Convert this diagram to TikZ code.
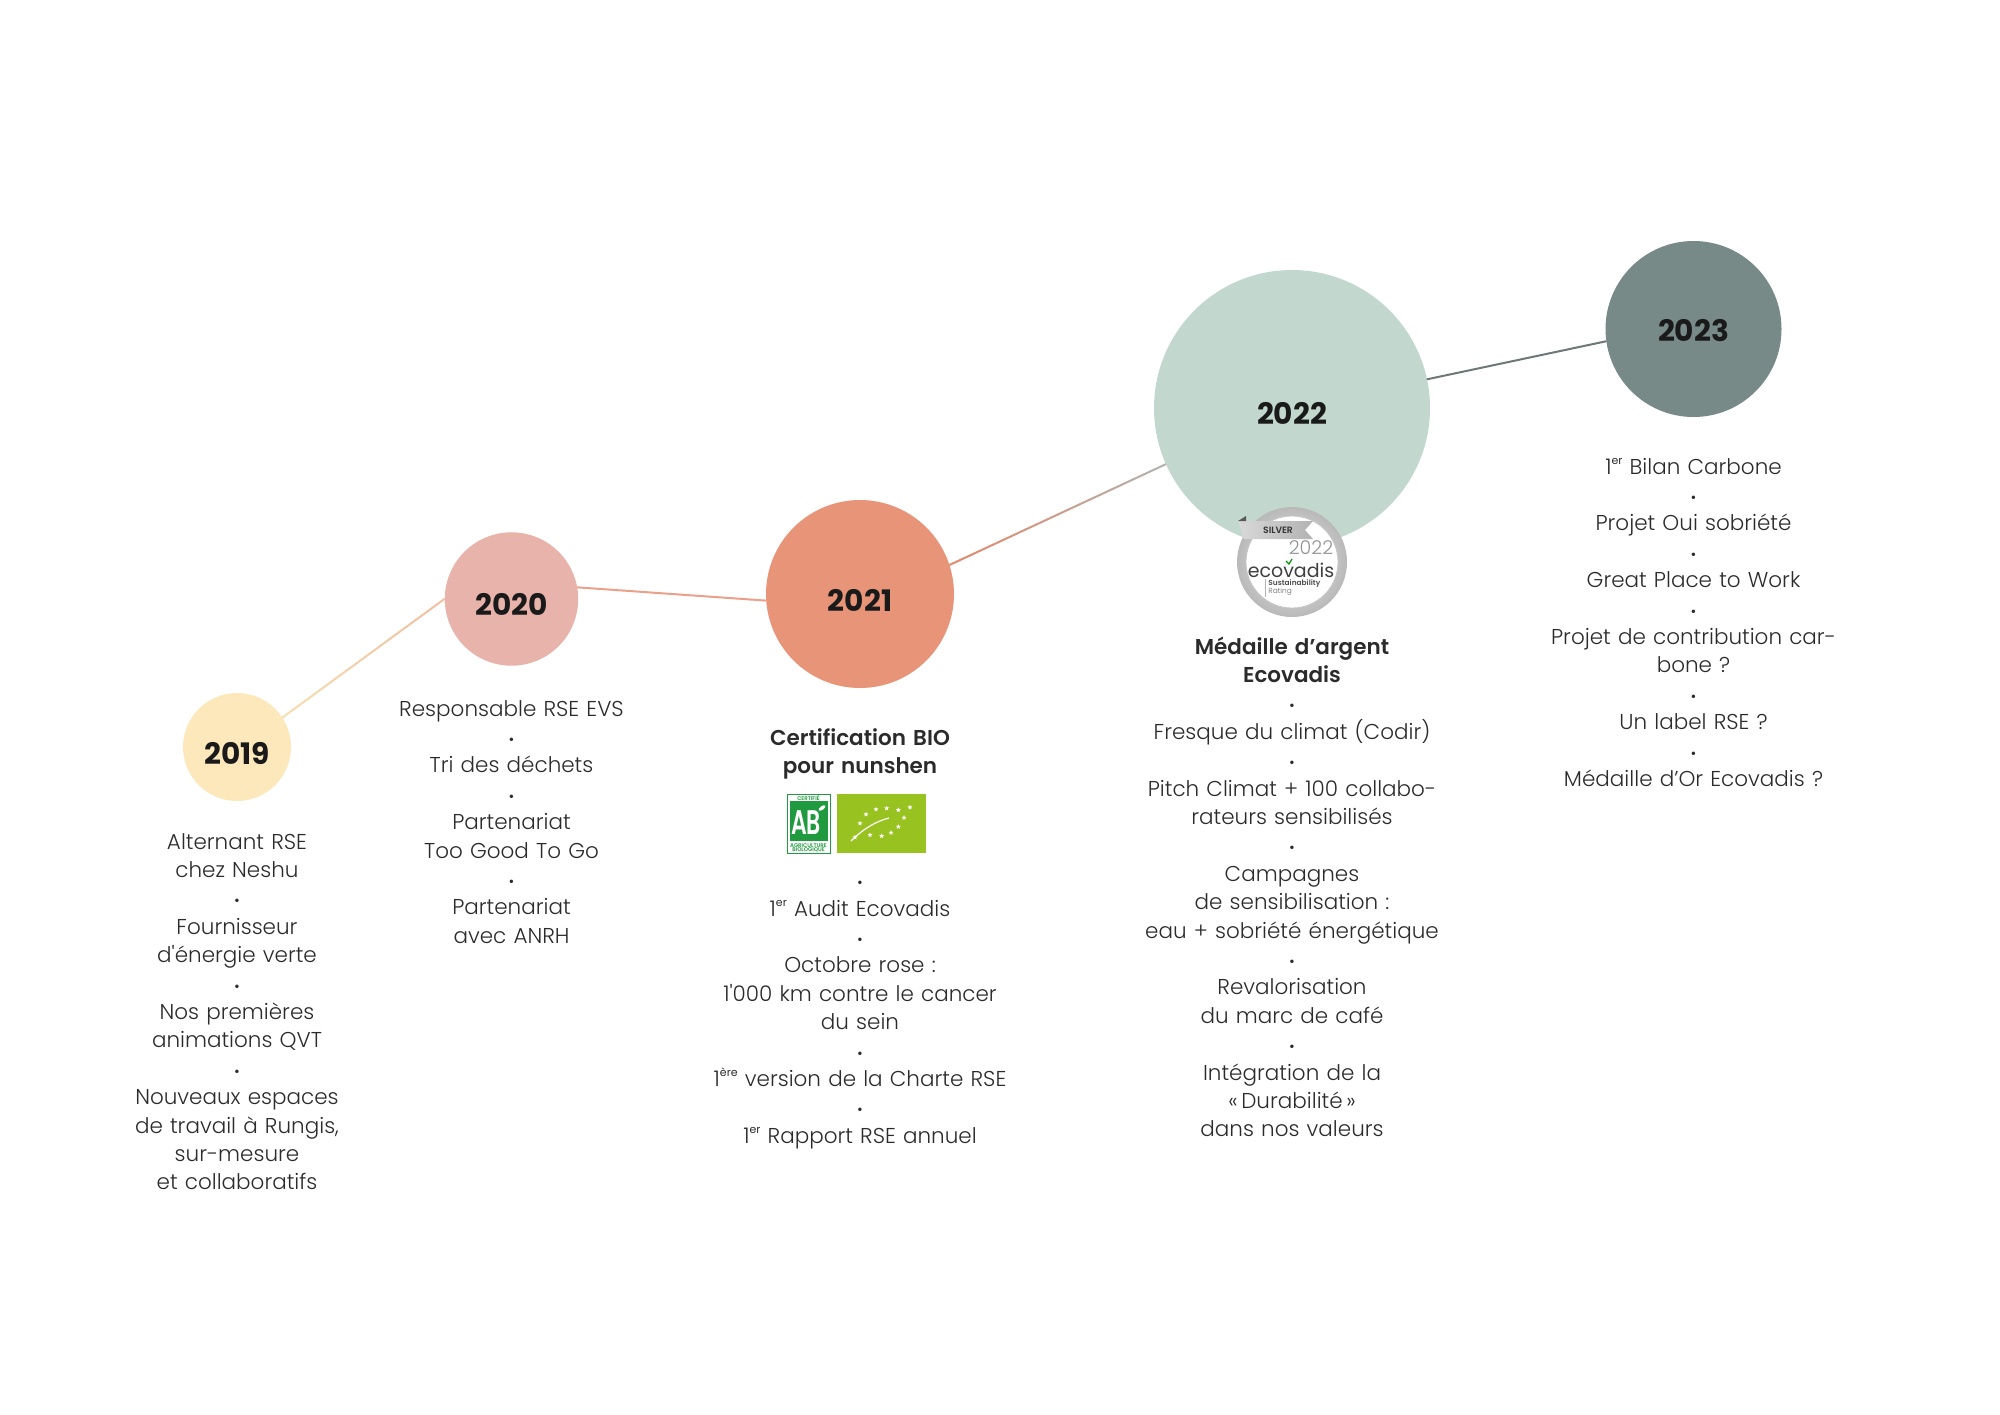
\documentclass[tikz,border=0pt]{standalone}
\usepackage{fontspec}
\setmainfont{Poppins}[UprightFont={* Light},BoldFont={* SemiBold}]
\newfontfamily\yearfont{Poppins}[UprightFont={* Bold}]
\newfontfamily\regfont{Poppins}
\usetikzlibrary{shapes.geometric,calc}
\definecolor{cA}{HTML}{FDE8BC}
\definecolor{cB}{HTML}{E7B3AB}
\definecolor{cC}{HTML}{E89478}
\definecolor{cD}{HTML}{C2D8CE}
\definecolor{cE}{HTML}{788A88}
\definecolor{txt}{HTML}{2B2B2B}
\definecolor{yeartxt}{HTML}{1A1A1A}
\definecolor{lnA}{HTML}{F7DDB0}
\definecolor{lnB}{HTML}{EFBFA0}
\definecolor{lnC}{HTML}{EBA08A}
\definecolor{lnD}{HTML}{E4896B}
\definecolor{lnE}{HTML}{B0B4B1}
\definecolor{lnF}{HTML}{6D7977}
\definecolor{abgreen}{HTML}{1F9A3F}
\definecolor{eugreen}{HTML}{97C21F}
\newcommand\sepdot{{\regfont\fontsize{7pt}{7pt}\selectfont •}}
\newcommand\supr[1]{\raisebox{0.85ex}{\regfont\fontsize{5.5}{5.5}\selectfont #1}}
\newcommand\gradconn[4]{%
  \foreach \k in {0,...,19}{%
    \pgfmathsetmacro\ga{\k/20}\pgfmathsetmacro\gb{(\k+1)/20}\pgfmathtruncatemacro\gp{100-5*\k}%
    \draw[conn, draw=#3!\gp!#4] ($(#1)!\ga!(#2)$) -- ($(#1)!\gb!(#2)$);}}
\tikzset{
  yearnode/.style 2 args={circle, inner sep=0pt, minimum size=#1pt, fill=#2},
  yearlabel/.style={font=\yearfont\fontsize{14.8}{14.8}\selectfont, text=yeartxt, inner sep=0pt},
  conn/.style={line width=1pt, line cap=round},
  coltext/.style={align=center, text width=175pt, anchor=base, inner sep=0pt,
    font=\fontsize{10.75}{14.2}\selectfont, text=txt},
  boldtext/.style={coltext, font=\bfseries\fontsize{10.75}{14.2}\selectfont},
  tiny/.style={inner sep=0pt, font=\bfseries\fontsize{2.7}{3}\selectfont},
  eustar/.style={star, star points=5, star point ratio=2.3, fill=white, inner sep=0pt, minimum size=2.6pt}
}
\begin{document}
\begin{tikzpicture}[x=0.5pt, y=-0.5pt]
\useasboundingbox (0,0) rectangle (2000,1414);

% year circles
\node[yearnode={54}{cA}] (n19) at (237,747) {};
\node[yearnode={66.7}{cB}] (n20) at (511.5,599) {};
\node[yearnode={94}{cC}] (n21) at (860,594) {};
\node[yearnode={138}{cD}] (n22) at (1292,408) {};
\node[yearnode={88}{cE}] (n23) at (1693.5,329) {};

\node[yearlabel] (t19) at ($(n19)+(0,6)$) {2019};
\node[yearlabel] (t20) at ($(n20)+(0,5)$) {2020};
\node[yearlabel] (t21) at ($(n21)+(0,6)$) {2021};
\node[yearlabel] (t22) at ($(n22)+(0,5)$) {2022};
\node[yearlabel] (t23) at ($(n23)+(0,2)$) {2023};

% connectors
\gradconn{n19.33}{n20.180}{lnA}{lnB}
\draw[conn, lnC] (n20.10) -- (n21.184);
\gradconn{n21.18}{n22.204}{lnD}{lnE}
\draw[conn, lnF] (n22.12.5) -- (n23.188.4);

% Ecovadis badge
\coordinate (bc) at (1292,562);
\shade[inner color=gray!15, outer color=gray!55] (bc) circle[radius=55];
\fill[white] (bc) circle[radius=46];
\draw[gray!45, line width=0.4pt] (bc) circle[radius=46];
\shade[left color=gray!30, right color=gray!60] (1238,521) -- (1313,521) -- (1305,530) -- (1313,539) -- (1244,539) -- cycle;
\fill[gray!70!black] (1238,521) -- (1246,516) -- (1246,521) -- cycle;
\node[inner sep=0pt, font=\bfseries\fontsize{4.6}{4.6}\selectfont, text=black!80] (bsil) at (1278,530) {SILVER};
\node[inner sep=0pt, font=\fontsize{9.5}{9.5}\selectfont, text=gray!85] (byear) at (1311,548) {2022};
\node[inner sep=0pt, font=\regfont\fontsize{9.5}{9.5}\selectfont, text=black!75] (beco) at (1291,570) {ecovadis};
\draw[green!60!black, line width=0.6pt] (1286,561) -- (1289,564) -- (1292,559);
\draw[gray!60, line width=0.4pt] (1265,579) -- (1265,597);
\node[inner sep=0pt, anchor=west, font=\bfseries\fontsize{3.7}{3.7}\selectfont, text=black!70] (bsus) at (1268,584) {Sustainability};
\node[inner sep=0pt, anchor=west, font=\fontsize{3.7}{3.7}\selectfont, text=black!60] (brat) at (1268,592) {Rating};

% AB logo
\draw[abgreen, line width=0.4pt, fill=white] (787,794) rectangle (830,853);
\fill[abgreen] (789.5,801) rectangle (827.5,841);
\node[tiny, text=abgreen] (abc) at (808.5,797.6) {CERTIFIÉ};
\node[inner sep=0pt, font=\bfseries\fontsize{11}{11}\selectfont, text=white] (abt) at (806,823) {\scalebox{1}[1.55]{AB}};
\fill[white, rotate around={35:(822,808)}] (822,808) ellipse (4 and 1.8);
\node[tiny, text=abgreen] (aba) at (808.5,845.3) {AGRICULTURE};
\node[tiny, text=abgreen] (abb) at (808.5,850.3) {BIOLOGIQUE};

% EU organic logo
\fill[eugreen] (837,794) rectangle (926,853);
\foreach \sx/\sy [count=\si] in {860/823.3,866/814.3,876/809.3,886.7/808.3,898.3/810,910/807.3,904/817.7,898.3/826.7,891/832.7,881.7/836,870/835,855/837.3}
  \node[eustar] (st\si) at (\sx,\sy) {};
\draw[white, line width=0.6pt] (851,841) .. controls (864,828) and (877,821) .. (889,818);

% texts
\node[coltext] (x19) at (237,849) {Alternant RSE\\chez Neshu\\\sepdot\\Fournisseur\\d\textquotesingle énergie verte\\\sepdot\\Nos premières\\animations QVT\\\sepdot\\Nouveaux espaces\\de travail à Rungis,\\sur-mesure\\et collaboratifs};

\node[coltext] (x20) at (511.5,716) {Responsable RSE EVS\\\sepdot\\Tri des déchets\\\sepdot\\Partenariat\\Too Good To Go\\\sepdot\\Partenariat\\avec ANRH};

\node[boldtext] (h21) at (860,745) {Certification BIO\\pour nunshen};
\node[coltext] (x21) at (860,887.6) {\sepdot\\1\supr{er} Audit Ecovadis\\\sepdot\\Octobre rose :\\1\textquotesingle 000 km contre le cancer\\du sein\\\sepdot\\1\supr{ère} version de la Charte RSE\\\sepdot\\1\supr{er} Rapport RSE annuel};

\node[boldtext] (h22) at (1292,654) {Médaille d’argent\\Ecovadis};
\node[coltext] (x22) at (1292,710.8) {\sepdot\\Fresque du climat (Codir)\\\sepdot\\Pitch Climat + 100 collabo-\\rateurs sensibilisés\\\sepdot\\Campagnes\\de sensibilisation :\\eau + sobriété énergétique\\\sepdot\\Revalorisation\\du marc de café\\\sepdot\\Intégration de la\\«\,Durabilité\,»\\dans nos valeurs};

\node[coltext] (x23) at (1693.5,474) {1\supr{er} Bilan Carbone\\\sepdot\\Projet Oui sobriété\\\sepdot\\Great Place to Work\\\sepdot\\Projet de contribution car-\\bone ?\\\sepdot\\Un label RSE ?\\\sepdot\\Médaille d’Or Ecovadis ?};
\end{tikzpicture}
\end{document}
